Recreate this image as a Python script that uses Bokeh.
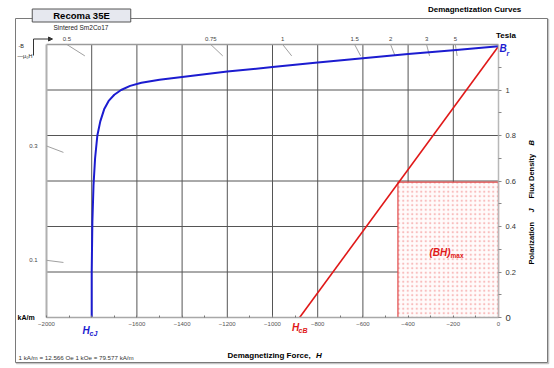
import numpy as np
from bokeh.plotting import figure
from bokeh.models import (FixedTicker, Label, LinearAxis, Arrow, NormalHead,
                          Range1d)
from bokeh.embed import file_html
from bokeh.resources import INLINE

# ---------------- data ----------------
H_J = [0, -200, -400, -600, -800, -1000, -1200, -1400, -1500, -1580, -1630,
       -1670, -1700, -1725, -1745, -1762, -1775, -1785, -1792, -1797, -1800,
       -1800]
B_J = [1.192, 1.175, 1.158, 1.140, 1.121, 1.101, 1.081, 1.057, 1.045, 1.032,
       1.018, 1.000, 0.979, 0.952, 0.915, 0.862, 0.80, 0.70, 0.58, 0.42, 0.20,
       0.0]
H_B = [0, -880]
B_B = [1.192, 0.0]
BH_H = -445
BH_B = 0.595
PC_TOP = [0.5, 0.75, 1, 1.5, 2, 3, 5]
PC_TOP_LABELS = ["0.5", "0.75", "1", "1.5", "2", "3", "5"]
PC_LEFT = [0.3, 0.1]
PC_LEFT_LABELS = ["0.3", "0.1"]
X_TICKS = [-2000, -1600, -1400, -1200, -1000, -800, -600, -400, -200, 0]
X_MINOR = [-1900, -1800, -1700, -1500, -1300, -1100, -900, -700, -500, -300, -100]
X_GRID = [-1800, -1600, -1400, -1200, -1000, -800, -600, -400, -200]
Y_TICKS = [0, 0.2, 0.4, 0.6, 0.8, 1.0]
Y_MINOR = [0.1, 0.3, 0.5, 0.7, 0.9, 1.1]
Y_GRID = [0.2, 0.4, 0.6, 0.8, 1.0]
MU0 = 4 * np.pi * 1e-4  # T per kA/m

FONT = "Liberation Sans"
W, H = 554, 368
XMIN, XMAX, YMIN, YMAX = -2000, 0, 0, 1.2
BOX_L, BOX_R, BOX_T, BOX_B = 46, 498, 44, 317   # chart box in page pixels
SX = (BOX_R - BOX_L) / (XMAX - XMIN)
SY = (BOX_B - BOX_T) / (YMAX - YMIN)


def hx(px):
    return XMIN + (px - BOX_L) / SX


def by(py):
    return YMIN + (BOX_B - py) / SY


p = figure(width=W, height=H, output_backend="svg", toolbar_location=None,
           x_range=Range1d(hx(0), hx(W)), y_range=Range1d(by(H), by(0)),
           x_axis_location=None, y_axis_location=None,
           min_border_left=0, min_border_right=0, min_border_top=0,
           min_border_bottom=0, background_fill_color="white",
           border_fill_color="white")
p.outline_line_color = None
p.grid.visible = False

# outer frame (shadow + box)
p.quad(left=[hx(16)], right=[hx(548)], top=[by(19)], bottom=[by(363)],
       fill_alpha=0, line_color="#c4c4c4", line_width=1.5)
p.quad(left=[hx(15)], right=[hx(547)], top=[by(18)], bottom=[by(362)],
       fill_color="white", line_color="#7a7a7a", line_width=1)

# grid lines
p.segment(x0=X_GRID, y0=[YMIN] * len(X_GRID), x1=X_GRID,
          y1=[YMAX] * len(X_GRID), line_color="#555555", line_width=1)
p.segment(x0=[XMIN] * len(Y_GRID), y0=Y_GRID, x1=[XMAX] * len(Y_GRID),
          y1=Y_GRID, line_color="#555555", line_width=1)
# chart box edges: top and left
p.segment(x0=[XMIN], y0=[YMAX], x1=[XMAX], y1=[YMAX],
          line_color="#9a9a9a", line_width=1.3)
p.segment(x0=[XMIN], y0=[YMIN], x1=[XMIN], y1=[YMAX],
          line_color="#b0b0b0", line_width=2)

# (BH)max rectangle (opaque, covers the grid)
p.quad(left=[BH_H], right=[0], bottom=[0], top=[BH_B],
       fill_color="#fffbfb", line_color="#e04848", line_width=1.2,
       hatch_pattern="dot", hatch_color="#f07070", hatch_scale=4.5,
       hatch_weight=0.6, hatch_alpha=0.45)

# bottom axis (fixed at B = 0)
xa = LinearAxis(fixed_location=0, bounds=(XMIN, XMAX))
xa.ticker = FixedTicker(ticks=X_TICKS, minor_ticks=X_MINOR)
xa.axis_line_color = "#a8a8a8"
xa.axis_line_width = 1.5
xa.major_tick_in = 2
xa.major_tick_out = 0
xa.minor_tick_in = 2
xa.minor_tick_out = 0
xa.major_tick_line_color = "#777777"
xa.minor_tick_line_color = "#777777"
xa.major_label_text_font = FONT
xa.major_label_text_font_size = "6px"
xa.major_label_text_color = "#555555"
xa.major_label_standoff = 4
p.add_layout(xa, "below")

# right axis (fixed at H = 0)
ya = LinearAxis(fixed_location=0, bounds=(YMIN, YMAX))
ya.ticker = FixedTicker(ticks=Y_TICKS, minor_ticks=Y_MINOR)
ya.axis_line_color = "#b8b8b8"
ya.axis_line_width = 1.5
ya.major_tick_in = 0
ya.major_tick_out = 3
ya.minor_tick_in = 0
ya.minor_tick_out = 3
ya.major_tick_line_color = "#888888"
ya.minor_tick_line_color = "#888888"
ya.major_label_text_font = FONT
ya.major_label_text_font_size = "7.5px"
ya.major_label_text_color = "#333333"
ya.major_label_standoff = 4
ya.major_label_overrides = {0: "", 0.2: "0.2", 0.4: "0.4", 0.6: "0.6",
                            0.8: "0.8", 1.0: "1"}
p.add_layout(ya, "right")

# permeance load line stubs
for pc in PC_TOP:
    h1 = -YMAX / (pc * MU0)
    h2 = -(YMAX - 0.05) / (pc * MU0)
    p.segment(x0=[h1], y0=[YMAX], x1=[h2], y1=[YMAX - 0.05],
              line_color="#a0a0a0", line_width=1)
for pc in PC_LEFT:
    b1 = pc * MU0 * (-XMIN)
    b2 = pc * MU0 * 1925
    p.segment(x0=[XMIN], y0=[b1], x1=[-1925], y1=[b2],
              line_color="#a0a0a0", line_width=1)

# curves
p.line(H_B, B_B, line_color="#e01818", line_width=1.6)
p.line(H_J, B_J, line_color="#1c1cd0", line_width=2)


def lab(text, px, py, size, color="#000000", style="normal", align="left",
        baseline="middle", angle=0, **kw):
    p.add_layout(Label(x=hx(px), y=by(py), text=text, text_font=FONT,
                       text_font_size=size, text_color=color,
                       text_font_style=style, text_align=align,
                       text_baseline=baseline, angle=angle, **kw))


# permeance labels
for pc, t in zip(PC_TOP, PC_TOP_LABELS):
    h1 = -YMAX / (pc * MU0)
    p.add_layout(Label(x=h1, y=by(38), text=t, text_font=FONT,
                       text_font_size="6px", text_color="#444444",
                       text_align="center", text_baseline="middle"))
for pc, t in zip(PC_LEFT, PC_LEFT_LABELS):
    b1 = pc * MU0 * (-XMIN)
    p.add_layout(Label(x=hx(37), y=b1, text=t, text_font=FONT,
                       text_font_size="6px", text_color="#444444",
                       text_align="right", text_baseline="middle"))

# title box
lab("Recoma 35E", 81, 15, "9.5px", style="bold", align="center",
    background_fill_color="#e6e8ef", border_line_color="#555555",
    border_line_width=1, padding=(21, 1))
lab("Sintered Sm2Co17", 53, 27, "6.5px", color="#222222")
lab("Demagnetization  Curves", 523, 9, "8px", style="bold", align="right")
lab("Tesla", 505.5, 35, "8px", style="bold", align="center")

# -B / mu0H legend
lab("-B", 18, 45.5, "5.5px", color="#222222")
lab("\u2014\u03bc\u2080H", 17, 55, "5.5px", color="#222222")
p.add_layout(Arrow(end=None, x_start=hx(33), y_start=by(55),
                   x_end=hx(33), y_end=by(38.5), line_color="#333333",
                   line_width=1))
p.add_layout(Arrow(end=NormalHead(size=4, fill_color="#333333",
                                  line_color="#333333"),
                   x_start=hx(33), y_start=by(38.5), x_end=hx(52),
                   y_end=by(38.5), line_color="#333333", line_width=1))

# Br, HcJ, HcB, (BH)max
lab("B", 499, 48, "10px", color="#1c1cd0", style="bold italic")
lab("r", 506, 53, "7px", color="#1c1cd0", style="bold italic")
lab("H", 82, 330, "10px", color="#1c1cd0", style="bold italic")
lab("cJ", 89, 333, "7px", color="#1c1cd0", style="bold italic")
lab("H", 291.5, 327, "10px", color="#e01818", style="bold italic")
lab("cB", 298, 330, "7px", color="#e01818", style="bold italic")
lab("(BH)", 429, 251.5, "10px", color="#e01818", style="bold italic")
lab("max", 450, 255, "6.5px", color="#e01818", style="bold")

# right axis zero and title
lab("0", 505, 317, "9.5px", color="#333333")
lab("Polarization", 531, 264, "7.5px", style="bold", angle=np.pi / 2)
lab("J", 531, 212, "7.5px", style="bold italic", angle=np.pi / 2)
lab("Flux Density", 531, 198, "7.5px", style="bold", angle=np.pi / 2)
lab("B", 531, 145, "7.5px", style="bold italic", angle=np.pi / 2)

# bottom texts
lab("kA/m", 17, 316.5, "7px", style="bold")
lab("Demagnetizing Force, ", 227, 354.5, "8px", style="bold")
lab("H", 315.5, 354.5, "8px", style="bold italic")
lab("1 kA/m = 12.566 Oe     1 kOe = 79.577 kA/m", 18, 356.5, "6.2px",
    color="#333333")

open("out.html", "w").write(file_html(p, INLINE))
